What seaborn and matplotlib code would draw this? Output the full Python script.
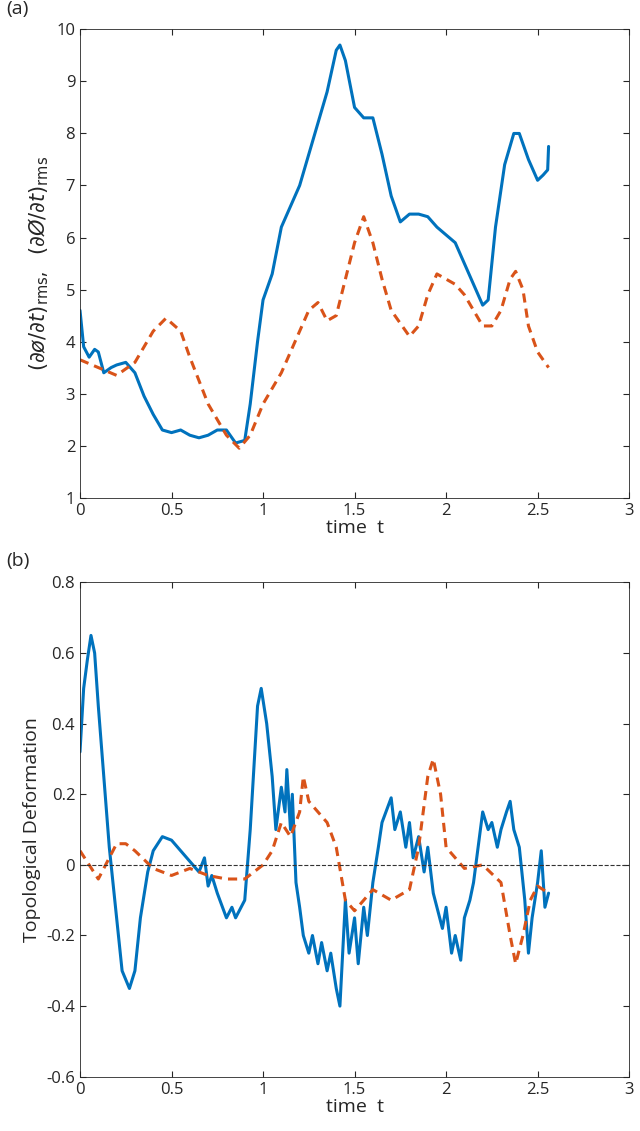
import numpy as np
import pandas as pd
import matplotlib
matplotlib.use('Agg')
import matplotlib.pyplot as plt
import seaborn as sns

sns.set_style('ticks')
plt.rcParams['font.family'] = ['Open Sans', 'DejaVu Sans']

blue, orange = '#0072BD', '#D95319'

# panel (a)
ta_blue = [0, 0.02, 0.05, 0.08, 0.1, 0.13, 0.17, 0.2, 0.25, 0.3, 0.35, 0.4, 0.45, 0.5, 0.55, 0.6, 0.65, 0.7,
           0.75, 0.8, 0.85, 0.9, 0.93, 0.97, 1.0, 1.05, 1.1, 1.15, 1.2, 1.25, 1.3, 1.35, 1.4, 1.42, 1.45, 1.5,
           1.55, 1.6, 1.65, 1.7, 1.75, 1.8, 1.85, 1.9, 1.95, 2.0, 2.05, 2.1, 2.15, 2.2, 2.23, 2.27, 2.32, 2.37,
           2.4, 2.45, 2.5, 2.53, 2.555, 2.56]
a_blue = [4.6, 3.9, 3.7, 3.85, 3.8, 3.4, 3.5, 3.55, 3.6, 3.4, 2.95, 2.6, 2.3, 2.25, 2.3, 2.2, 2.15, 2.2,
          2.3, 2.3, 2.05, 2.1, 2.8, 4.0, 4.8, 5.3, 6.2, 6.6, 7.0, 7.6, 8.2, 8.8, 9.6, 9.7, 9.4, 8.5,
          8.3, 8.3, 7.6, 6.8, 6.3, 6.45, 6.45, 6.4, 6.2, 6.05, 5.9, 5.5, 5.1, 4.7, 4.8, 6.2, 7.4, 8.0,
          8.0, 7.5, 7.1, 7.2, 7.3, 7.75]
ta_orange = [0, 0.1, 0.2, 0.3, 0.4, 0.47, 0.55, 0.6, 0.7, 0.8, 0.87, 0.93, 1.0, 1.1, 1.2, 1.25, 1.3, 1.35,
             1.4, 1.5, 1.55, 1.6, 1.65, 1.7, 1.8, 1.85, 1.9, 1.95, 2.0, 2.05, 2.1, 2.15, 2.2, 2.25, 2.3,
             2.35, 2.38, 2.42, 2.45, 2.5, 2.56]
a_orange = [3.65, 3.5, 3.35, 3.6, 4.2, 4.45, 4.2, 3.7, 2.8, 2.2, 1.95, 2.2, 2.8, 3.4, 4.2, 4.6, 4.75, 4.4,
            4.5, 5.9, 6.4, 5.9, 5.2, 4.6, 4.1, 4.3, 4.9, 5.3, 5.2, 5.1, 4.9, 4.6, 4.3, 4.3, 4.6,
            5.2, 5.35, 5.0, 4.3, 3.8, 3.5]

# panel (b)
tb_blue = [0, 0.02, 0.04, 0.06, 0.08, 0.1, 0.13, 0.16, 0.2, 0.23, 0.27, 0.3, 0.33, 0.37, 0.4, 0.45, 0.5,
           0.55, 0.6, 0.65, 0.68, 0.7, 0.72, 0.75, 0.8, 0.83, 0.85, 0.9, 0.93, 0.97, 0.99, 1.02, 1.05,
           1.07, 1.1, 1.12, 1.13, 1.15, 1.16, 1.18, 1.2, 1.22, 1.25, 1.27, 1.3, 1.32, 1.35, 1.37, 1.4,
           1.42, 1.44, 1.45, 1.47, 1.5, 1.52, 1.55, 1.57, 1.6, 1.63, 1.65, 1.7, 1.72, 1.75, 1.78, 1.8,
           1.82, 1.85, 1.88, 1.9, 1.93, 1.95, 1.98, 2.0, 2.03, 2.05, 2.08, 2.1, 2.13, 2.15, 2.2, 2.23,
           2.25, 2.28, 2.3, 2.33, 2.35, 2.37, 2.4, 2.43, 2.45, 2.47, 2.5, 2.52, 2.54, 2.56]
b_blue = [0.32, 0.5, 0.58, 0.65, 0.6, 0.45, 0.25, 0.05, -0.15, -0.3, -0.35, -0.3, -0.15, -0.02, 0.04, 0.08,
          0.07, 0.04, 0.01, -0.02, 0.02, -0.06, -0.03, -0.08, -0.15, -0.12, -0.15, -0.1, 0.1, 0.45, 0.5,
          0.4, 0.25, 0.1, 0.22, 0.15, 0.27, 0.1, 0.2, -0.05, -0.12, -0.2, -0.25, -0.2, -0.28, -0.22,
          -0.3, -0.25, -0.35, -0.4, -0.2, -0.1, -0.25, -0.15, -0.28, -0.12, -0.2, -0.05, 0.05, 0.12,
          0.19, 0.1, 0.15, 0.05, 0.12, 0.02, 0.08, -0.02, 0.05, -0.08, -0.12, -0.18, -0.12, -0.25,
          -0.2, -0.27, -0.15, -0.1, -0.05, 0.15, 0.1, 0.12, 0.05, 0.1, 0.15, 0.18, 0.1, 0.05, -0.1,
          -0.25, -0.15, -0.05, 0.04, -0.12, -0.08]
tb_orange = [0, 0.05, 0.1, 0.15, 0.2, 0.25, 0.3, 0.4, 0.5, 0.6, 0.7, 0.8, 0.9, 0.95, 1.0, 1.05, 1.1,
             1.15, 1.2, 1.22, 1.25, 1.3, 1.35, 1.4, 1.45, 1.5, 1.6, 1.7, 1.8, 1.85, 1.9, 1.93, 1.97,
             2.0, 2.1, 2.2, 2.3, 2.35, 2.38, 2.42, 2.46, 2.5, 2.56]
b_orange = [0.04, 0.0, -0.04, 0.01, 0.06, 0.06, 0.04, -0.01, -0.03, -0.01, -0.03, -0.04, -0.04, -0.02,
            0.0, 0.04, 0.12, 0.08, 0.15, 0.25, 0.18, 0.15, 0.12, 0.05, -0.1, -0.13, -0.07, -0.1, -0.07,
            0.05, 0.25, 0.3, 0.2, 0.05, -0.01, 0.0, -0.05, -0.2, -0.28, -0.2, -0.1, -0.06, -0.08]

fig = plt.figure(figsize=(6.4, 11.31), dpi=100)
ax1 = fig.add_axes([0.125, 0.560, 0.858, 0.414])
ax2 = fig.add_axes([0.125, 0.048, 0.858, 0.437])

sns.lineplot(x=ta_blue, y=a_blue, ax=ax1, color=blue, lw=2.2)
sns.lineplot(x=ta_orange, y=a_orange, ax=ax1, color=orange, lw=2.2, linestyle=(0, (3, 2)))
ax1.set_xlim(0, 3)
ax1.set_ylim(1, 10)
ax1.set_yticks(range(1, 11))
ax1.set_xticks([0, 0.5, 1, 1.5, 2, 2.5, 3])
ax1.set_xticklabels(['0', '0.5', '1', '1.5', '2', '2.5', '3'])
ax1.set_xlabel('time  t', fontsize=14, labelpad=0)
ax1.set_ylabel(r'$(\partial\o/\partial t)_{\rm rms}$,   $(\partial\O/\partial t)_{\rm rms}$', fontsize=15)
ax1.text(-0.135, 1.025, '(a)', transform=ax1.transAxes, fontsize=14, va='bottom')

sns.lineplot(x=tb_blue, y=b_blue, ax=ax2, color=blue, lw=2.2)
sns.lineplot(x=tb_orange, y=b_orange, ax=ax2, color=orange, lw=2.2, linestyle=(0, (3, 2)))
ax2.axhline(0, color='#333333', lw=0.8, linestyle='--')
ax2.set_xlim(0, 3)
ax2.set_ylim(-0.6, 0.8)
ax2.set_yticks(np.arange(-0.6, 0.81, 0.2))
ax2.set_yticklabels(['-0.6', '-0.4', '-0.2', '0', '0.2', '0.4', '0.6', '0.8'])
ax2.set_xticks([0, 0.5, 1, 1.5, 2, 2.5, 3])
ax2.set_xticklabels(['0', '0.5', '1', '1.5', '2', '2.5', '3'])
ax2.set_xlabel('time  t', fontsize=14, labelpad=0)
ax2.set_ylabel('Topological Deformation', fontsize=14)
ax2.text(-0.135, 1.025, '(b)', transform=ax2.transAxes, fontsize=14, va='bottom')

for ax in (ax1, ax2):
    ax.tick_params(direction='in', labelsize=12, top=True, right=True, length=4)
    for s in ax.spines.values():
        s.set_color('#262626')
        s.set_linewidth(0.6)

fig.savefig('out.png', dpi=100)
